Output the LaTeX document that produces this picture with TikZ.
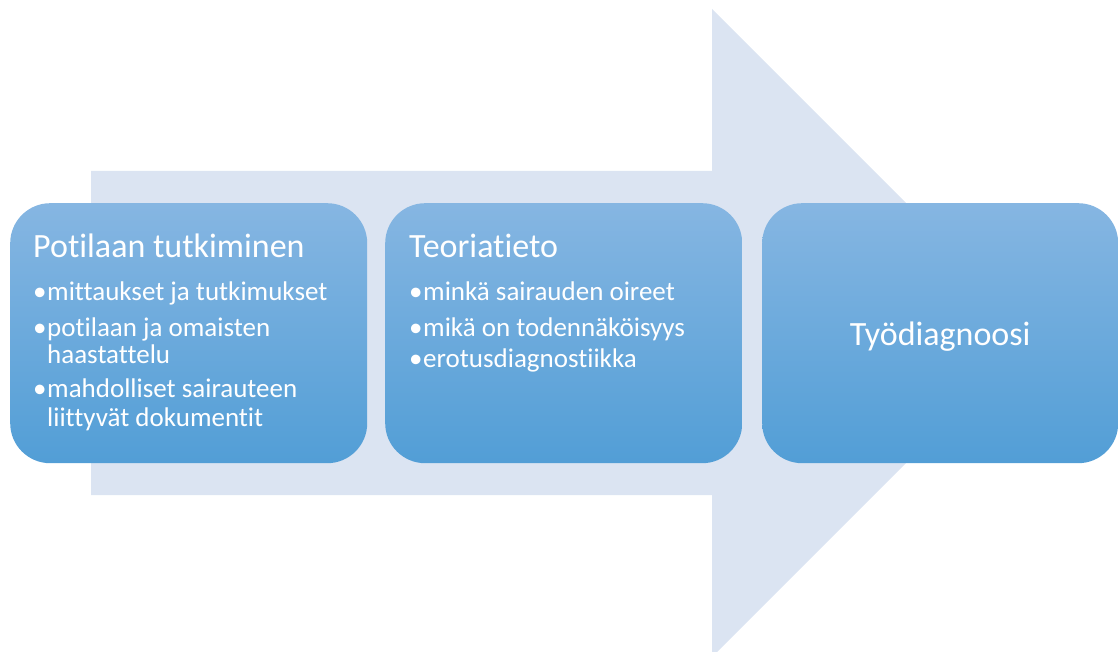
\documentclass[tikz,border=0pt]{standalone}
\usepackage{fontspec}
\setmainfont{Carlito}[Ligatures=NoCommon]
\usepackage{xcolor}
\usepackage{tikz}
\definecolor{arrowfill}{RGB}{219,228,242}
\definecolor{boxtop}{RGB}{134,182,226}
\definecolor{boxbot}{RGB}{82,158,214}
\newcommand{\bul}{\makebox[14pt][l]{\textbullet}}

\begin{document}
\begin{tikzpicture}[x=1pt,y=-1pt,
    stage/.style={rectangle,rounded corners=40pt,minimum width=357pt,
                  minimum height=260pt,inner sep=0pt,anchor=north west,
                  top color=boxtop,bottom color=boxbot},
    head/.style={anchor=base west,inner sep=0pt,text=white,
                 font=\fontsize{34}{40}\selectfont},
    item/.style={anchor=base west,inner sep=0pt,text=white,
                 font=\fontsize{27}{30}\selectfont}
]
\useasboundingbox (0,0) rectangle (1119,652);
\clip (0,0) rectangle (1119,652);

% big background arrow
\fill[arrowfill] (91,171) -- (712,171) -- (712,9) -- (1036,333)
  -- (712,657) -- (712,495) -- (91,495) -- cycle;

\node[stage] (tutk)  at (10,203)  {};
\node[stage] (teor)  at (385,203) {};
\node[stage,minimum width=356pt] (diag) at (762,203) {};

% Potilaan tutkiminen
\node[head] (tutkhead) at (33,258) {Potilaan tutkiminen};
\node[item] (t1)  at (33,301) {\bul mittaukset ja tutkimukset};
\node[item] (t2a) at (33,336) {\bul potilaan ja omaisten};
\node[item] (t2b) at (47,363) {haastattelu};
\node[item] (t3a) at (33,397) {\bul mahdolliset sairauteen};
\node[item] (t3b) at (47,426) {liittyvät dokumentit};

% Teoriatieto
\node[head] (teorhead) at (409,258) {Teoriatieto};
\node[item] (e1) at (409,301) {\bul minkä sairauden oireet};
\node[item] (e2) at (409,336) {\bul mikä on todennäköisyys};
\node[item] (e3) at (409,367) {\bul erotusdiagnostiikka};

% Työdiagnoosi
\node[head,anchor=base] (diaghead) at (diag.center |- 0,345) {Työdiagnoosi};
\end{tikzpicture}
\end{document}
